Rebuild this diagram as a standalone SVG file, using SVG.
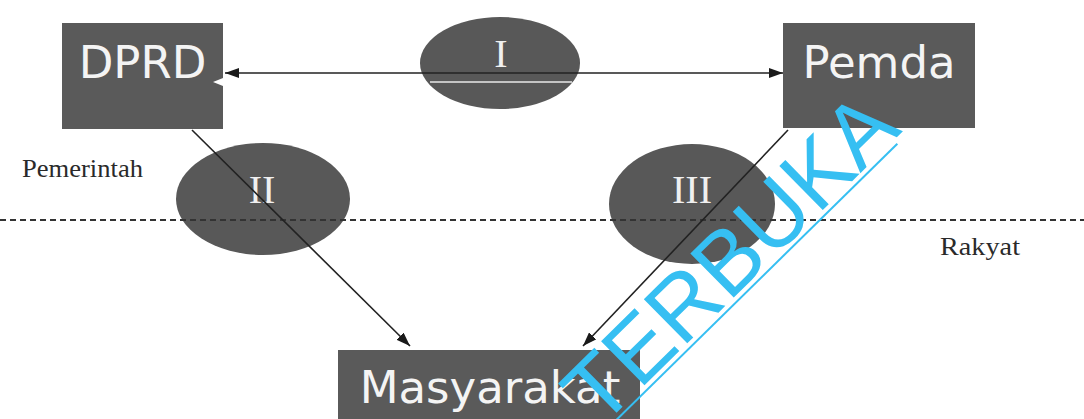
<svg xmlns="http://www.w3.org/2000/svg" width="1084" height="419" viewBox="0 0 1084 419">
  <style>
    .box { fill: #5a5a5a; }
    .oval { fill: #585858; }
    .boxtext { font-family: "DejaVu Sans", "Liberation Sans", sans-serif; font-size: 45px; fill: #f4f4f4; text-anchor: middle; }
    .roman { font-family: "Liberation Serif", "Times New Roman", serif; font-size: 40px; fill: #f0f0f0; text-anchor: middle; }
    .label { font-family: "Liberation Serif", "Times New Roman", serif; font-size: 26px; fill: #2a2a2a; }
    .conn { stroke: #222222; stroke-width: 1.6; fill: none; }
    .dash { stroke: #333333; stroke-width: 1.8; stroke-dasharray: 6 4; fill: none; }
    .wm { font-family: "Liberation Sans", Arial, sans-serif; font-size: 90px; fill: #36bff2; }
  </style>
  <defs>
    <marker id="arrow" viewBox="0 0 14 10" refX="14" refY="5" markerWidth="14" markerHeight="10" markerUnits="userSpaceOnUse" orient="auto-start-reverse">
      <path d="M0,0 L14,5 L0,10 Z" fill="#1a1a1a"/>
    </marker>
  </defs>

  <g id="node-ellipse-I">
    <ellipse class="oval" cx="500" cy="63" rx="80" ry="46"/>
    <text class="roman" x="501" y="67">I</text>
  </g>
  <g id="node-ellipse-II">
    <ellipse class="oval" cx="263" cy="199" rx="87" ry="56"/>
    <text class="roman" x="262" y="203">II</text>
  </g>
  <g id="node-ellipse-III">
    <ellipse class="oval" cx="692" cy="204" rx="83" ry="60"/>
    <text class="roman" x="692" y="203">III</text>
  </g>

  <g id="node-dprd">
    <rect class="box" x="62" y="23" width="161" height="106"/>
    <text class="boxtext" x="142.5" y="78">DPRD</text>
  </g>
  <g id="node-pemda">
    <rect class="box" x="783" y="23" width="192" height="105"/>
    <text class="boxtext" x="879" y="78">Pemda</text>
  </g>
  <g id="node-masyarakat">
    <rect class="box" x="338" y="350" width="302" height="75"/>
    <text class="boxtext" x="490" y="403">Masyarakat</text>
  </g>

  <g id="divider">
    <line class="dash" x1="0" y1="220" x2="1084" y2="220"/>
    <text class="label" x="22" y="177" textLength="121" lengthAdjust="spacingAndGlyphs">Pemerintah</text>
    <text class="label" x="940" y="255" textLength="80" lengthAdjust="spacingAndGlyphs">Rakyat</text>
  </g>

  <g id="connectors">
    <line x1="430" y1="82" x2="572" y2="82" stroke="#e8e8e8" stroke-width="1.6"/>
    <polygon points="213,82 223,78 223,86" fill="#ffffff"/>
    <line class="conn" x1="225" y1="73" x2="783" y2="73" marker-start="url(#arrow)" marker-end="url(#arrow)"/>
    <line class="conn" x1="192" y1="130" x2="410" y2="346" marker-end="url(#arrow)"/>
    <line class="conn" x1="788" y1="130" x2="583" y2="346" marker-end="url(#arrow)"/>
  </g>

  <g id="watermark" transform="translate(600,429) rotate(-44.5)">
    <text class="wm" x="0" y="0">TERBUKA</text>
    <line x1="-5" y1="5" x2="412" y2="5" stroke="#36bff2" stroke-width="2"/>
  </g>
</svg>
